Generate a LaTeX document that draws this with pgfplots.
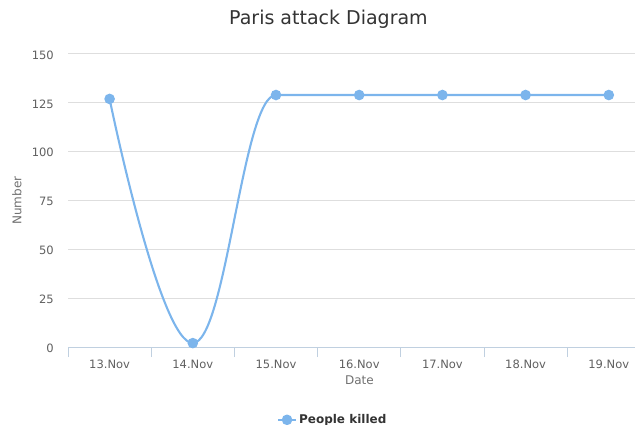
\documentclass[border=0pt]{standalone}
\usepackage{fontspec}
\setmainfont{DejaVu Sans}
\usepackage{pgfplots}
\pgfplotsset{compat=1.18}
\definecolor{hcblue}{HTML}{7CB5EC}
\definecolor{hctitle}{HTML}{333333}
\definecolor{hclabel}{HTML}{606060}
\definecolor{hcaxtitle}{HTML}{707070}
\definecolor{hcgrid}{HTML}{DEDEDE}
\definecolor{hcaxis}{HTML}{C0D0E0}
\makeatletter
% Highcharts-like spline: horizontal control points at 40% of each interval
\newdimen\hc@lx \newdimen\hc@ly \newdimen\hc@x \newdimen\hc@y
\newdimen\hc@ca \newdimen\hc@cb \newcount\hc@n
\pgfdeclareplothandler{\pgfplothandlerhcspline}{}{%
  start={\global\hc@n=0\relax},
  point={%
    \global\hc@x=\pgf@x \global\hc@y=\pgf@y
    \ifnum\hc@n=0
      \pgfpathmoveto{\pgfqpoint{\hc@x}{\hc@y}}%
    \else
      \global\hc@cb=\hc@x \global\advance\hc@cb by -\hc@lx
      \global\hc@cb=0.4\hc@cb
      \ifnum\hc@n=1 \global\hc@ca=\hc@lx
      \else \global\hc@ca=\hc@lx \global\advance\hc@ca by \hc@cb \fi
      \global\hc@cb=-\hc@cb \global\advance\hc@cb by \hc@x
      \pgfpathcurveto{\pgfqpoint{\hc@ca}{\hc@ly}}{\pgfqpoint{\hc@cb}{\hc@y}}{\pgfqpoint{\hc@x}{\hc@y}}%
    \fi
    \global\advance\hc@n by 1
    \global\hc@lx=\hc@x \global\hc@ly=\hc@y
  },
  jump={\global\hc@n=0\relax},
  end={}
}
\tikzset{hcspline/.code={\let\tikz@plot@handler=\pgfplothandlerhcspline}}
\makeatother
\begin{document}
\begin{tikzpicture}
\useasboundingbox (0,0) rectangle (635bp,425bp);
\begin{axis}[
  at={(68bp,78bp)}, anchor=south west,
  scale only axis, width=567bp, height=293bp,
  xmin=-0.5, xmax=6.315, ymin=0, ymax=150,
  axis x line*=bottom, axis y line*=left,
  y axis line style={draw=none},
  x axis line style={draw=hcaxis, line width=1bp},
  xtick={0,1,2,3,4,5,6},
  xticklabels={13.Nov,14.Nov,15.Nov,16.Nov,17.Nov,18.Nov,19.Nov},
  extra x ticks={-0.5,0.5,1.5,2.5,3.5,4.5,5.5},
  extra x tick labels={},
  extra x tick style={major tick length=10bp, tick align=outside,
    tick style={draw=hcaxis, line width=1bp}},
  ytick={0,25,50,75,100,125,150},
  major tick length=0pt,
  ymajorgrids, grid style={draw=hcgrid, line width=1bp},
  /pgf/number format/assume math mode=true,
  x tick label style={font=\fontsize{11.5bp}{13bp}\selectfont, text=hclabel,
    anchor=base, yshift=-21bp, inner sep=0pt},
  y tick label style={font=\fontsize{11.5bp}{13bp}\selectfont, text=hclabel,
    anchor=east, xshift=-14bp, yshift=-1bp, inner sep=0pt},
  xlabel={Date}, ylabel={Number},
  x label style={at={(axis description cs:0.514,-0.1263)}, anchor=base,
    font=\fontsize{12bp}{14bp}\selectfont, text=hcaxtitle, inner sep=0pt},
  y label style={at={(axis description cs:-0.09,0.5)}, anchor=center, rotate=0,
    font=\fontsize{12bp}{14bp}\selectfont, text=hcaxtitle, inner sep=0pt},
  title={Paris attack Diagram},
  title style={at={(axis description cs:0.4594,1.0819)}, anchor=base,
    font=\fontsize{19bp}{22bp}\selectfont, text=hctitle, inner sep=0pt},
  legend style={at={(axis description cs:0.3686,-0.2486)}, anchor=west,
    draw=none, fill=none, inner sep=0pt, outer sep=0pt,
    font=\bfseries\fontsize{12bp}{14bp}\selectfont, text=hctitle},
  legend image code/.code={%
    \draw[mark repeat=2,mark phase=2,#1,sharp plot] plot coordinates {(0bp,0bp) (9bp,0bp) (18bp,0bp)};},
]
\addplot[hcspline, color=hcblue, line width=2.1bp, mark=*, mark size=4.2bp,
  mark options={fill=hcblue, draw=none}]
  coordinates {(0,127) (1,2) (2,129) (3,129) (4,129) (5,129) (6,129)};
\addlegendentry{People killed}
\end{axis}
\end{tikzpicture}
\end{document}
